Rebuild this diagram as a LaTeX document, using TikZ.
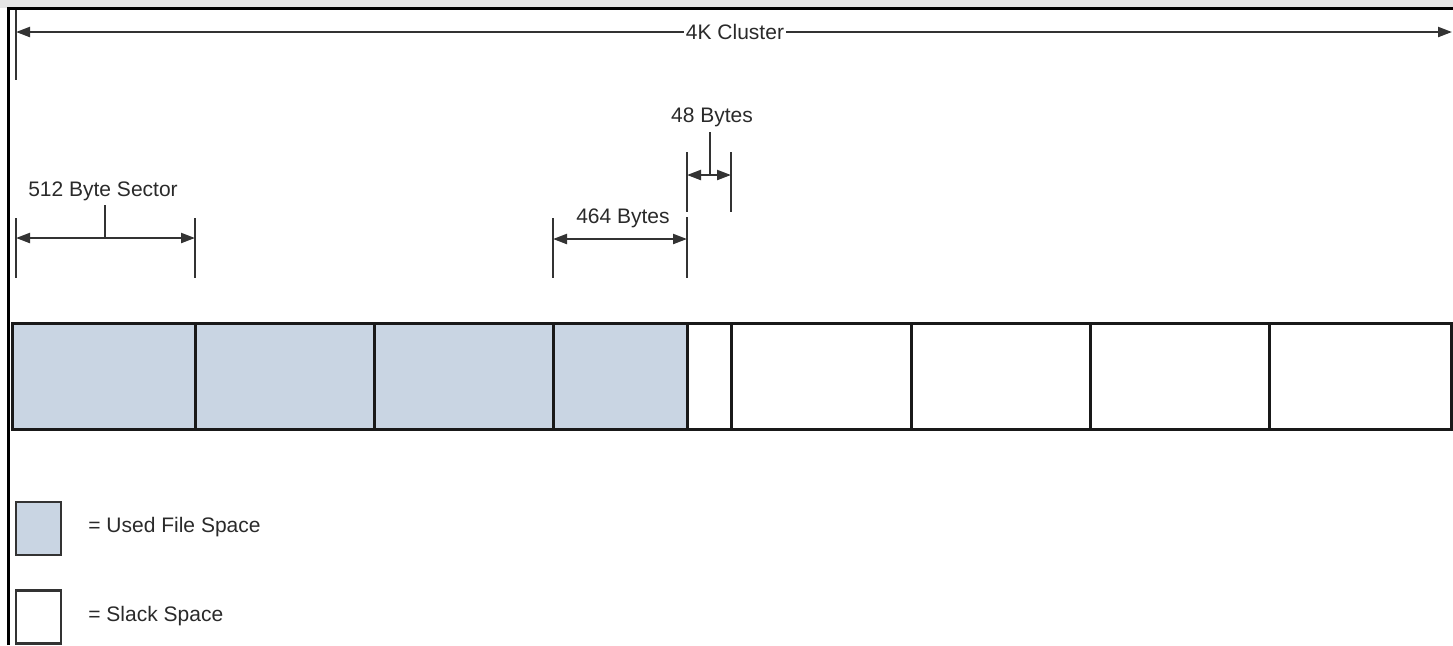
\documentclass[tikz,border=0pt]{standalone}
\usepackage{fontspec}
\setmainfont{Liberation Sans}
\usetikzlibrary{arrows.meta}
\definecolor{usedfill}{HTML}{C9D5E3}
\definecolor{dimgray}{HTML}{333333}
\definecolor{topband}{HTML}{E6E6E6}
\definecolor{txt}{HTML}{2A2A2A}
\begin{document}
\begin{tikzpicture}[x=0.5pt,y=-0.5pt,
  cellbox/.style={draw=black!90, line width=1.5pt, minimum height=53pt, inner sep=0pt, outer sep=0pt},
  used/.style={cellbox, fill=usedfill},
  slack/.style={cellbox, fill=white},
  tickline/.style={draw=dimgray, line width=1.1pt},
  dimline/.style={draw=dimgray, line width=1.1pt, {Triangle[length=7pt,width=5pt]}-{Triangle[length=7pt,width=5pt]}},
  lbl/.style={font=\fontsize{10.5}{12}\selectfont, text=txt, inner sep=1pt},
  legbox/.style={draw=black!80, line width=1.2pt, minimum width=22.5pt, minimum height=26.5pt, inner sep=0pt},
]
\useasboundingbox (0,0) rectangle (1453,645);
\clip (0,0) rectangle (1453,645);
% window frame
\fill[topband] (0,0) rectangle (1453,8);
\draw[line width=1.5pt] (8,645) -- (8,8) -- (1453,8);

% 4K cluster dimension
\coordinate (kt1) at (16,10);
\coordinate (kt2) at (16,80);
\coordinate (kL) at (16,32);
\coordinate (kR) at (1452,32);
\draw[tickline] (kt1) -- (kt2);
\draw[dimline] (kL) -- (kR);
\node[lbl, fill=white] (klabel) at (735,32) {4K Cluster};

% 512 byte sector dimension
\coordinate (s1a) at (16,218);
\coordinate (s1b) at (16,278);
\coordinate (s2a) at (195,218);
\coordinate (s2b) at (195,278);
\coordinate (sL) at (16,238);
\coordinate (sR) at (195,238);
\coordinate (sM) at (105,238);
\draw[tickline] (s1a) -- (s1b);
\draw[tickline] (s2a) -- (s2b);
\draw[dimline] (sL) -- (sR);
\node[lbl] (slabel) at (103,191) {512 Byte Sector};
\coordinate (sLead) at (105,205);
\draw[tickline] (sLead) -- (sM);

% 464 bytes dimension
\coordinate (f1a) at (553,218);
\coordinate (f1b) at (553,278);
\coordinate (f2a) at (687,217);
\coordinate (f2b) at (687,278);
\coordinate (fL) at (553,239);
\coordinate (fR) at (687,239);
\draw[tickline] (f1a) -- (f1b);
\draw[tickline] (f2a) -- (f2b);
\draw[dimline] (fL) -- (fR);
\node[lbl] (flabel) at (623,218) {464 Bytes};

% 48 bytes dimension
\coordinate (e1a) at (687,152);
\coordinate (e1b) at (687,212);
\coordinate (e2a) at (731,152);
\coordinate (e2b) at (731,212);
\coordinate (eL) at (687,175);
\coordinate (eR) at (731,175);
\coordinate (eM) at (710,175);
\coordinate (eLead) at (710,132);
\draw[tickline] (e1a) -- (e1b);
\draw[tickline] (e2a) -- (e2b);
\draw[dimline] (eL) -- (eR);
\draw[tickline] (eLead) -- (eM);
\node[lbl] (elabel) at (712,117) {48 Bytes};

% cluster cells
\node[used,  minimum width=91.5pt] (c1) at (103.5,376) {};
\node[used,  minimum width=89.5pt] (c2) at (284.5,376) {};
\node[used,  minimum width=89.5pt] (c3) at (463.5,376) {};
\node[used,  minimum width=67pt]   (c4) at (620,376) {};
\node[slack, minimum width=22pt]   (c5) at (709,376) {};
\node[slack, minimum width=90pt]   (c6) at (821,376) {};
\node[slack, minimum width=89.5pt] (c7) at (1000.5,376) {};
\node[slack, minimum width=89.5pt] (c8) at (1179.5,376) {};
\node[slack, minimum width=91pt]   (c9) at (1360,376) {};

% legend
\node[legbox, fill=usedfill] (leg1) at (38.5,528.5) {};
\node[lbl, anchor=west] (leg1t) at (86,527) {= Used File Space};
\node[legbox, fill=white] (leg2) at (38.5,617) {};
\node[lbl, anchor=west] (leg2t) at (86,616) {= Slack Space};
\end{tikzpicture}
\end{document}
